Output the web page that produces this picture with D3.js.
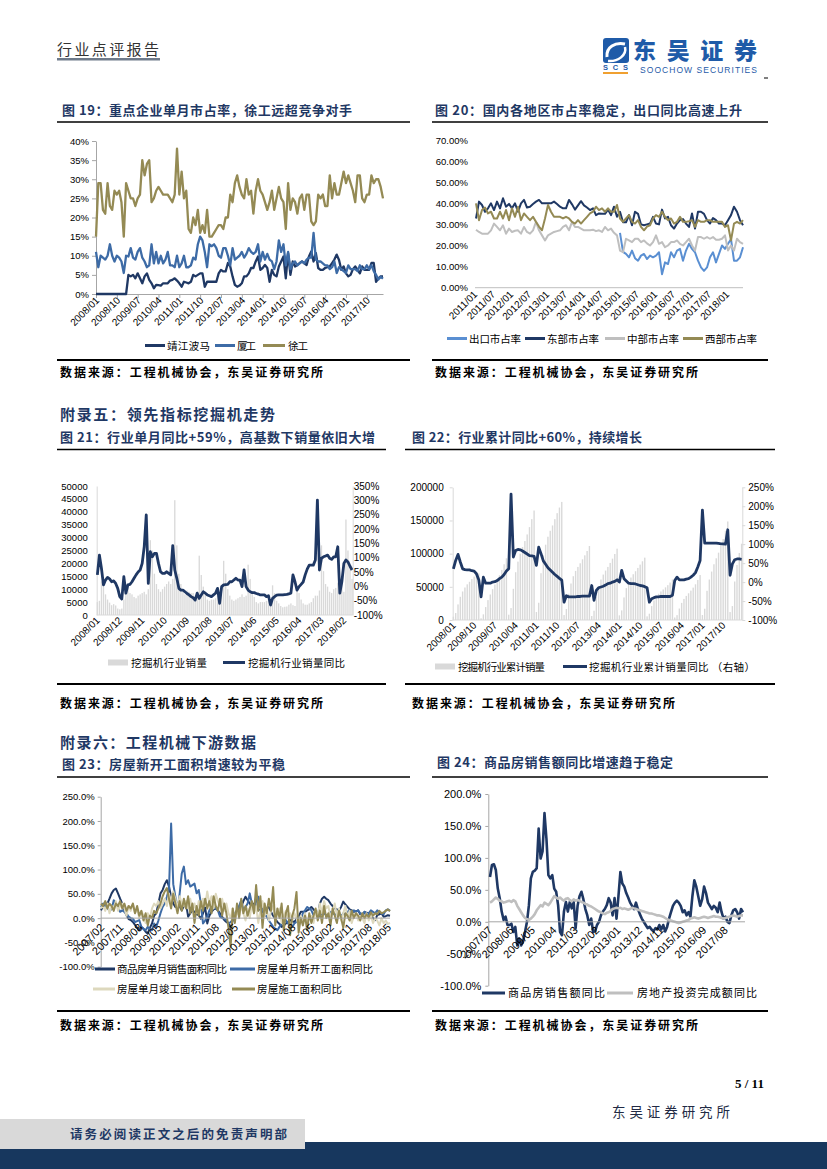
<!DOCTYPE html>
<html>
<head>
<meta charset="utf-8">
<script src="https://cdn.jsdelivr.net/npm/d3@7"></script>
<style>
  body { margin: 0; background: #fff; }
  svg { display: block; }
</style>
</head>
<body>
<svg id="page" width="827" height="1169"></svg>
<script>
// 颜色与字体
const NAVY = "#1f3864", BLUE = "#3d6ba6", LBLUE = "#5a8fd2", KHAKI = "#948a54",
      GRAY = "#bfbfbf", LKHAKI = "#ddd8bd", BAR = "#d9d9d9", TITLE = "#1f3864";
const CN = '"Noto Sans CJK SC", sans-serif';
const NUM = '"Liberation Sans", Arial, sans-serif';

// ---------- 数据 ----------
// 图19 重点企业单月市占率 (%), 2008/01 起
const c19Start = "2008/01";
const c19Jiangbo = [0,0,0,0,0,0,0,0,0,0,0,0,0,0, 5,4.6,5,4.1,5.4,4.1,2.8,4.6,5.4,3.7, 2.8,1.5,2.4,2.3,2.2,2.8,2.8,2.8,3.5,3.7,
  4.1,3.5,2.8,1.9,3.2,3,2.8,3.2,5,4.6, 5,5.4,5.4,1.9,3.2,3.2,3.2,3.2,3.2,5.4, 6.3,5.9,5.9,8.1,7.2,4.6,2.4,1.9,2.2,2.8,
  4.6,4.6,5.4,6.8,6.8,8.5,9.8,6.3,6.8,7.6, 6.8,3.2,6.3,5,4.6,7.2,8.5,9.8,4.1,10.7, 5,8.5,7.2,7.6,8.1,8.5,8,7.6,9.8,11.1,
  8.5,10.7,6.8,6.3,6.3,6.8,7,7.2,8.1,9, 10.3,8.9,6.3,7.2,5.4,4.6,5,6.5,7.2,6.3, 5.4,7.2,6.3,6.3,6.3,8.1,8.1,3.2,4.1,4.6, 4.6];
const c19Xiamen = [11,7,10,9.5,9,10,13,10,8.5,10, 9.5,8.5,5.5,10,9.8,12,9.5,9,11,12, 9.5,8.5,7,7.5,13,8,11,8,10,8,
  9,11,7.5,7.5,7,10,7,8,10,7, 7,7.5,9.5,9,13,15,14,11,7,13, 12.5,13,12,10,9.5,12,12,10,7.5,12,
  9,9.5,10,11,9.5,10.5,12,11,10.5,11, 13,8.5,11,9,10.5,9,8.5,6.5,8.5,14, 11,13,7.5,11,6.5,8,8.5,7.5,8,8.5,
  8,9,9.5,9.5,16,9,8.5,8.5,8,7.5, 7.5,6.5,7,8.5,5.5,7,6.5,6,5.5,7.5, 6.5,6.5,6.5,6,7.5,6.5,6.5,7.5,6.5,7.5, 6,5,3.8,4.5,4];
const c19Xugong = [15,29,29,22,21,29,23,22,27,26, 27,24,15,29,27,25,25,23,25,26, 35,31,34,35,24,25,27,28,27,26,
  26,26,25,24,26,38,26,32,25,27, 17,16,20,18,22,16,18,16,22,15, 15,16,17,18,18,17,20,20,26,24,
  29,31,28,26,25,30,26,27,21,27, 30,27,26,24,22,24,27,22,25,28, 25,24,17,29,22,25,24,21,25,26,
  22,26,26,19,18,19,26,25,26,23, 23,31,25,29,26,26,29,32,29,31, 29,27,24,31,31,25,24,26,26,31, 29,30,30,28,25];
const c19YTicks = [0,5,10,15,20,25,30,35,40];
const c19XTicks = ["2008/01","2008/10","2009/07","2010/04","2011/01","2011/10","2012/07","2013/04","2014/01","2014/10","2015/07","2016/04","2017/01","2017/10"];

// 图20 各地区市占率 (%), 2011/01 起
const c20Start = "2011/01";
const c20Export = [null,null,null,null,null,null,null,null,null,null, null,null,null,null,null,null,null,null,null,null,
  null,null,null,null,null,null,null,null,null,null, null,null,null,null,null,null,null,null,null,null,
  null,null,null,null,null,null,null,null,
  26,17,16,14.4,17.6,14,12.8,15.2,16,13.6, 15.2,14.4,15.2,16.8,6.4,12,11.2,16.8,14.4,17.6,
  18.4,12.8,17.6,20.8,18.4,16.8,12.8,9.6,8,9.6, 14.4,16.8,12,16,20,18.4,20.8,23,12.8,12.8, 14.4,19.2];
const c20East = [32.8,40.8,39.2,36,37.6,40,36.8,40.8,37.6,42.4, 38.4,39.7,37.6,40,36,40,41.6,38,38.4,39.7,
  40.8,41.6,40,40,40,40,40.8,39.7,38.4,37.6, 37.6,41.6,39.5,37,39,41,39,38,36.8,37.6,
  34.4,35.2,35,35,37,34.4,38.4,33.6,36,31, 31,34.4,29.6,36,35,30,29.6,30,30.4,33.6,
  30.4,30,37,32.8,33.6,29.6,28,30.4,32,32.5, 30.4,28.8,35.2,28,36,36,35,32,30.4,33, 32,30.4,30.4,29.6,32,34.4,38.4,36,32,29.6];
const c20Mid = [27.5,26.4,25.6,25.6,25.6,27.2,30.4,28.8,27.2,29.6, 25.6,28,26.4,27,27.2,25.6,28.8,26.4,25.6,27.2,
  31.2,27.2,24.8,22.4,24.8,25.6,26.4,26.8,27.2,28.8, 29.6,27.2,31.2,28.8,28.8,28,27.2,27.2,27.2,27.5,
  26.8,27.2,26.4,28.8,27.2,28,26,24.8,17.6,16.8, 23.2,22.4,21.6,23.2,23.2,21.6,22.4,21,20,21.6,
  24.8,20.8,21.6,19.2,20,21.6,21.6,22.4,20.8,20, 21.6,23.2,20,17.6,24,24,23.2,24,23.2,24, 22.7,22.7,23.2,24.8,17.6,20,17.6,23.2,21.6,20.8];
const c20West = [40,32,36.8,38,35.2,36,32.8,32.8,36,32.8, 36.8,32,37.6,33.6,38.4,32,35.2,33.6,32,33.6,
  31.2,29,27.2,32.8,39.2,36,33.6,33.6,33.6,32.8, 33.6,32.8,31.2,30.4,32,30.4,32,33.6,35.2,36,
  38.4,36.8,37.6,36,37.6,36,36,39.2,32.8,31.2, 32.8,34.4,31.2,30.4,32,28.8,27.2,29,29.6,32.8,
  34.4,33.6,36,33.6,32,32.8,30.4,31.2,33.6,31.2, 31.2,31.5,32,28.8,32,31.2,31.2,32,32,31.2, 31.2,31.2,31.2,28.8,29.6,22.4,30.4,31.2,30.4,32];
const c20YTicks = [0,10,20,30,40,50,60,70];
const c20XTicks = ["2011/01","2011/07","2012/01","2012/07","2013/01","2013/07","2014/01","2014/07","2015/01","2015/07","2016/01","2016/07","2017/01","2017/07","2018/01"];

// 图21 挖掘机单月销量 (台) 与同比 (%), 2008/01 起
const c21Start = "2008/01";
const c21Sales = [5000,5500,13000,11500,8000,6000,4800,3800,4200,3700,2500,2200,
  2500,6000,11000,10500,8500,8000,7000,6500,7500,8000,8500,9000,
  8000,10000,29000,25000,16000,12000,10000,9000,10000,11000,12000,13000,
  12000,14000,44500,27000,16000,12000,9000,8000,9500,9000,8500,8500,
  7500,9000,23000,15500,11000,8000,6000,5500,6000,6000,6500,7500,
  6000,8000,21000,16000,10000,7500,6000,5500,6000,6500,7000,8000,
  7000,7500,19500,14000,9000,7000,5000,4500,5000,5000,5000,5500,
  5500,4000,11500,8500,5500,4500,3500,3000,3200,3300,4000,4500,
  3800,3500,10000,8500,6000,4500,4000,4000,4500,5000,6500,7500,
  7500,9500,27000,17000,12000,11000,9000,8500,10000,10500,12500,14000,
  12000,9000,37000,25000,18000,14000];
const c21Yoy = [40,109,63,5,22,31,26,16,19,10, -7,-36,-44,34,-24,5,7,16,28,40, 50,57,80,138,249,10,121,103,115,115,
  80,51,45,45,51,45,40,142,57,28, -7,-13,-13,-19,-25,-30,-36,-40,-48,-24, -42,-30,-19,-24,-30,-33,-36,-30,-24,-7,
  -59,-1,5,6,7,16,16,22,28,22, 22,-1,57,-1,-13,-19,-22,-22,-25,-27, -30,-30,-30,-36,-33,-65,-42,-36,-31,-30,
  -30,-30,-29,-28,-26,-24,40,16,-13,-1, 7,15,40,60,74,74,74,92,301,57, 98,103,106,109,98,94,103,103,138,-24, 16,80,92,85,70,57];
const c21LTicks = [0,5000,10000,15000,20000,25000,30000,35000,40000,45000,50000];
const c21RTicks = [-100,-50,0,50,100,150,200,250,300,350];
const c21XTicks = ["2008/01","2008/12","2009/11","2010/10","2011/09","2012/08","2013/07","2014/06","2015/05","2016/04","2017/03","2018/02"];

// 图22 挖掘机累计销量 (台) 与累计同比 (%)
const c22Start = "2008/01";
const c22Cum = [5000,10500,23500,35000,43000,49000,53800,57600,61800,65500,68000,70200,
  2500,8500,19500,30000,38500,46500,53500,60000,67500,75500,84000,93000,
  8000,18000,47000,72000,88000,100000,110000,119000,129000,140000,152000,165000,
  12000,26000,70500,97500,113500,125500,134500,142500,152000,161000,169500,178000,
  7500,16500,39500,55000,66000,74000,80000,85500,91500,97500,104000,111500,
  6000,14000,35000,51000,61000,68500,74500,80000,86000,92500,99500,107500,
  7000,14500,34000,48000,57000,64000,69000,73500,78500,83500,88500,94000,
  5500,9500,21000,29500,35000,39500,43000,46000,49200,52500,56500,61000,
  3800,7300,17300,25800,31800,36300,40300,44300,48800,53800,60300,67800,
  7500,17000,44000,61000,73000,84000,93000,101500,111500,122000,134500,148500,
  12000,21000,58000,83000,101000,115000];
const c22Yoy = [35,57,73,53,35,33,32,32,30,29, 22,6,-39,13,-3,-3,-3,0,1,4, 9,13,20,29,35,232,66,83,86,85,
  82,78,74,70,69,68,44,92,75,56, 47,38,32,26,20,15,10,5,-53,-36, -39,-39,-39,-39,-38,-38,-37,-37,-37,-37,
  -9,-48,-22,-15,-13,-11,-8,-4,-3,0, 2,6,0,31,9,3,-3,-4,-4,-5, -7,-9,-10,-12,-15,-53,-44,-41,-39,-39,
  -38,-38,-38,-38,-38,-35,4,13,6,6, 6,8,9,13,18,25,40,57,190,103, 103,103,103,103,103,102,101,101,100,138, 18,48,59,61,61,60];
const c22LTicks = [0,50000,100000,150000,200000];
const c22RTicks = [-100,-50,0,50,100,150,200,250];
const c22XTicks = ["2008/01","2008/10","2009/07","2010/04","2011/01","2011/10","2012/07","2013/04","2014/01","2014/10","2015/07","2016/04","2017/01","2017/10"];

// 图23 房屋面积同比 (%), 2007/02 起
const c23Start = "2007/02";
const c23Sales = [16,25,30,30,40,51,58,61,51,40, 30,15,6,-2,-4,-8,-14,-20,-25,-18, -22,-28,-32,-20,-11,5,10,30,51,58,
  70,78,65,44,30,23,30,25,16,25, 30,3,10,16,13,8,6,-1,10,23, -11,5,13,18,20,16,10,3,-4,-8,
  -11,-21,-5,3,16,20,23,35,44,37, 30,23,30,25,16,18,20,16,20,23, 13,5,-1,-8,-12,-18,-15,-11,-8,-4,
  -6,-8,-2,3,13,13,13,16,18,23, 18,13,3,30,40,44,40,37,30,25, 20,18,16,23,34,28,23,18,16,13,
  14,16,8,3,13,11,10,3,0,-4, 6,8,10,3,4,6,5];
const c23NewStart = [23,30,25,20,16,18,37,30,23,13, 16,13,10,3,0,-1,-8,-6,-4,-18, -22,-25,-18,-22,-25,-11,-18,-5,10,23,
  30,44,60,195,70,44,16,50,92,106, 70,78,65,68,71,51,58,30,-11,-5, 3,16,23,23,20,16,3,0,-1,-4,
  -11,-8,-4,10,16,25,37,16,23,30, 51,30,16,35,44,23,13,8,3,-5, -11,-18,-22,-25,-18,-11,-8,-4,-11,-15,
  -18,-11,-8,3,-4,10,16,23,20,16, 6,10,8,3,13,10,6,3,13,10, 8,6,13,3,10,6,13,16,10,16,
  13,16,10,8,13,6,10,16,13,10, 16,13,10,8,16,18,15];
const c23Done = [20,25,15,30,10,25,20,35,15,25, 30,20,5,25,15,30,10,20,0,15, 5,-10,10,0,20,30,25,35,20,30,
  40,25,50,35,55,40,20,45,30,25, 35,20,40,15,30,10,35,20,40,25, 55,30,45,20,50,35,25,40,15,30,
  10,0,20,-5,15,5,25,10,-5,20, 0,30,10,25,-10,15,35,5,20,-5, 15,25,0,10,20,-10,5,15,0,10,
  -5,10,0,-15,5,-5,10,-10,0,5, -10,15,5,30,10,35,20,25,0,15, 30,5,20,-5,10,25,0,15,-10,5,
  10,-5,5,0,-10,10,-5,5,-10,0, -5,-15,0,-10,-5,-12,-10];
const c23Under = [30,25,35,20,30,25,15,30,25,35, 20,30,15,25,20,30,10,25,5,15, -5,10,-15,5,0,15,10,20,30,45,
  55,62,40,20,50,30,10,35,15,40, 20,45,10,30,-10,25,5,35,15,40, 20,35,10,45,25,15,40,5,30,10,
  -20,-60,20,-10,30,0,40,10,25,5, 20,35,10,68,15,45,-20,30,10,40, 15,64,-15,20,0,30,-25,10,25,-35,
  5,20,54,-30,0,-15,5,-25,10,-10, 5,20,-5,15,-10,25,0,10,-15,20, 5,-10,15,0,-20,10,5,-5,15,0,
  10,5,-5,10,0,8,2,12,5,10, 8,15,10,12,15,18,14];
const c23YTicks = [-100,-50,0,50,100,150,200,250];
const c23XTicks = ["2007/02","2007/11","2008/08","2009/05","2010/02","2010/11","2011/08","2012/05","2013/02","2013/11","2014/08","2015/05","2016/02","2016/11","2017/08","2018/05"];

// 图24 商品房销售额与房地产投资同比 (%), 2007/07 起
const c24Start = "2007/07";
const c24Sales = [70,89,90,81,52,37,16,3,8,-5, -5,-3,-16,-8,-37,-26,-37,-31,-16,0, 26,68,78,80,84,146,99,110,170,130,
  73,68,73,52,47,26,-16,-21,16,31, 16,31,21,31,-10,25,40,47,35,20, 10,-5,5,-16,-15,-5,0,10,16,20,
  26,37,30,10,37,5,40,78,60,55, 45,38,30,25,20,30,20,12,5,0, -5,-10,-8,-12,-15,-10,-12,-5,-12,-5,
  -15,-8,5,15,25,30,33,30,25,15, 18,10,15,8,40,65,55,40,25,35, 55,45,30,25,20,25,22,15,30,15,
  5,8,0,-2,10,18,20,15,5,20, 15];
const c24Invest = [30,32,35,38,36,33,32,30,31,32, 33,31,34,32,25,20,15,10,6,4, 3,5,8,12,18,22,26,24,30,28,
  26,30,35,40,38,36,38,35,33,36, 37,34,32,35,33,34,33,31,30,28, 27,25,24,22,20,18,16,15,13,12,
  14,15,17,20,21,22,21,22,20,21, 20,19,20,22,21,20,19,18,17,16, 15,14,13,13,12,11,10,10,9,8,
  6,4,3,2,1,0,-1,-2,-1,0, 1,2,3,5,6,7,6,5,6,7, 8,7,6,7,8,9,8,8,7,6,
  5,6,7,8,9,10,9,8,9,10, 10];
const c24YTicks = [-100,-50,0,50,100,150,200];
const c24XTicks = ["2007/07","2008/06","2009/05","2010/04","2011/03","2012/02","2013/01","2013/12","2014/11","2015/10","2016/09","2017/08"];

const SOURCE = "数据来源：工程机械协会，东吴证券研究所";

// ---------- 工具函数 ----------
const svg = d3.select("#page");
const parseM = d3.timeParse("%Y/%m");
const fmtM = d3.timeFormat("%Y/%m");

// 从起始月份生成 n 个月份类别
function monthList(start, n) {
  const s = parseM(start);
  return d3.timeMonth.range(s, d3.timeMonth.offset(s, n)).map(fmtM);
}

function txt(parent, x, y, s, o = {}) {
  const t = parent.append("text").attr("x", x).attr("y", y).text(s)
    .attr("font-family", o.family || CN)
    .attr("font-size", o.size || 12)
    .attr("font-weight", o.weight || "normal")
    .attr("fill", o.fill || "#000");
  if (o.len) t.attr("textLength", o.len).attr("lengthAdjust", "spacing");
  if (o.anchor) t.attr("text-anchor", o.anchor);
  return t;
}

function hline(x1, x2, y, w, color) {
  svg.append("line").attr("x1", x1).attr("x2", x2).attr("y1", y).attr("y2", y)
    .attr("stroke", color || "#000").attr("stroke-width", w);
}

function styleAxis(sel, size, color) {
  sel.select(".domain").attr("stroke", color || "#a6a6a6");
  sel.selectAll(".tick line").attr("stroke", color || "#a6a6a6");
  sel.selectAll(".tick text").attr("font-family", NUM).attr("font-size", size).attr("fill", "#000");
}

// 旋转 45° 的月份标签
function rotLabels(g, pos, labels, y0, dx, size) {
  g.append("g").selectAll("text").data(labels).join("text")
    .attr("transform", d => `translate(${pos(d) + dx},${y0}) rotate(-45)`)
    .attr("text-anchor", "end")
    .attr("font-family", NUM).attr("font-size", size).attr("fill", "#000")
    .text(d => d);
}

function drawLine(g, xs, y, values, color, width) {
  const line = d3.line().defined(d => d.v != null).x(d => d.x).y(d => y(d.v));
  g.append("path").datum(values.map((v, i) => ({ x: xs[i], v })))
    .attr("d", line).attr("fill", "none").attr("stroke", color)
    .attr("stroke-width", width).attr("stroke-linejoin", "round");
}

function legLine(g, x1, x2, y, color, w) {
  g.append("line").attr("x1", x1).attr("x2", x2).attr("y1", y).attr("y2", y)
    .attr("stroke", color).attr("stroke-width", w);
}

// ---------- 页眉 ----------
txt(svg, 57, 55, "行业点评报告", { size: 15, fill: "#333", len: 102 });
svg.append("rect").attr("x", 57).attr("y", 58).attr("width", 103).attr("height", 2.5).attr("fill", "#6e7a8a");
svg.append("rect").attr("x", 603).attr("y", 38).attr("width", 26).attr("height", 25).attr("rx", 3).attr("fill", "#1f5ba8");
svg.append("path").attr("d", "M607,57 C606,47 615,42 625,44").attr("stroke", "#fff").attr("stroke-width", 3).attr("fill", "none");
svg.append("path").attr("d", "M608,61 C618,62 627,55 625,47").attr("stroke", "#fff").attr("stroke-width", 2.5).attr("fill", "none");
txt(svg, 633, 59, "东吴证券", { size: 23, weight: 900, fill: "#1f5ba8", len: 124 });
txt(svg, 640, 73, "SOOCHOW SECURITIES", { size: 8.5, family: NUM, fill: "#1f5ba8", len: 117 });
txt(svg, 603, 70, "SCS", { size: 7.5, family: NUM, weight: "bold", fill: "#1f5ba8", len: 25 });
svg.append("rect").attr("x", 603).attr("y", 72).attr("width", 25).attr("height", 2).attr("fill", "#f0a030");
hline(764, 768, 78, 1, "#000");

// ---------- 标题、分隔线、来源 ----------
function title(x, y, s, len) { txt(svg, x, y, s, { size: 13, weight: "bold", fill: TITLE, len }); }
function heading(x, y, s, len) { txt(svg, x, y, s, { size: 15, weight: "bold", fill: TITLE, len }); }
function source(x, y) { txt(svg, x, y, SOURCE, { size: 12, weight: "bold", len: 263 }); }

title(62, 115, "图 19：重点企业单月市占率，徐工远超竞争对手", 290);
hline(57, 410, 122, 1.6);
title(435, 115, "图 20：国内各地区市占率稳定，出口同比高速上升", 307);
hline(432, 768, 122, 1.6);
hline(57, 410, 360, 1.8);
hline(432, 768, 360, 1.8);
source(60, 377);
source(435, 377);

heading(60, 420, "附录五：领先指标挖掘机走势", 215);
title(60, 442, "图 21：行业单月同比+59%，高基数下销量依旧大增", 315);
hline(57, 386, 449.5, 1.6);
title(412, 442, "图 22：行业累计同比+60%，持续增长", 230);
hline(405, 775, 449.5, 1.6);
hline(57, 386, 684, 1.8);
hline(405, 775, 684, 1.8);
source(60, 708);
source(412, 708);

heading(60, 748, "附录六：工程机械下游数据", 196);
title(62, 769, "图 23：房屋新开工面积增速较为平稳", 223);
hline(57, 410, 777, 1.6);
title(437, 767, "图 24：商品房销售额同比增速趋于稳定", 236);
hline(432, 768, 777, 1.6);
hline(57, 410, 1011, 1.8);
hline(432, 768, 1011, 1.8);
source(60, 1030);
source(435, 1030);

// ---------- 图19 ----------
{
  const g = svg.append("g");
  const months = monthList(c19Start, c19Xugong.length);
  const x = d3.scalePoint().domain(months).range([96, 383]);
  const y = d3.scaleLinear().domain([0, 40]).range([294, 141]);
  const xs = months.map(m => x(m));

  const ya = g.append("g").attr("transform", "translate(96,0)")
    .call(d3.axisLeft(y).tickValues(c19YTicks).tickFormat(d => d + "%").tickSize(4).tickSizeOuter(0).tickPadding(3));
  styleAxis(ya, 9.5);
  const xa = g.append("g").attr("transform", "translate(0,294)")
    .call(d3.axisBottom(x).tickValues(c19XTicks).tickFormat("").tickSize(4).tickSizeOuter(0));
  styleAxis(xa, 9.5);
  rotLabels(g, x, c19XTicks, 301, 4, 10);

  drawLine(g, xs, y, c19Jiangbo, NAVY, 2.3);
  drawLine(g, xs, y, c19Xiamen, BLUE, 2.3);
  drawLine(g, xs, y, c19Xugong, KHAKI, 2.3);

  const ly = 345.5;
  legLine(g, 145, 165, ly, NAVY, 3);
  txt(g, 167, ly + 4, "靖江波马", { size: 10.5, len: 43 });
  legLine(g, 215, 235, ly, BLUE, 3);
  txt(g, 237, ly + 4, "厦工", { size: 10.5, len: 19 });
  legLine(g, 263, 285, ly, KHAKI, 3);
  txt(g, 288, ly + 4, "徐工", { size: 10.5, len: 20 });
}

// ---------- 图20 ----------
{
  const g = svg.append("g");
  const months = monthList(c20Start, c20East.length);
  const x = d3.scalePoint().domain(months).range([476, 743]);
  const y = d3.scaleLinear().domain([0, 70]).range([287.7, 140]);
  const xs = months.map(m => x(m));

  const ya = g.append("g").attr("transform", "translate(472,0)")
    .call(d3.axisLeft(y).tickValues(c20YTicks).tickFormat(d => d.toFixed(2) + "%").tickSize(0).tickPadding(4));
  styleAxis(ya, 9.5);
  ya.select(".domain").remove();
  hline(475, 743, 287.7, 1, "#bfbfbf");
  rotLabels(g, x, c20XTicks, 295, 2, 10);

  drawLine(g, xs, y, c20Export, LBLUE, 2);
  drawLine(g, xs, y, c20East, NAVY, 2);
  drawLine(g, xs, y, c20Mid, GRAY, 2);
  drawLine(g, xs, y, c20West, KHAKI, 2);

  const ly = 338.5;
  const items = [[447, LBLUE, "出口市占率"], [525, NAVY, "东部市占率"], [605, GRAY, "中部市占率"], [683, KHAKI, "西部市占率"]];
  items.forEach(([lx, c, s]) => {
    legLine(g, lx, lx + 20, ly, c, 3);
    txt(g, lx + 22, ly + 4, s, { size: 10.5, len: 52 });
  });
}

// ---------- 图21 ----------
{
  const g = svg.append("g");
  const months = monthList(c21Start, c21Sales.length);
  const x = d3.scaleBand().domain(months).range([96.7, 352.7]).paddingInner(0.35);
  const yL = d3.scaleLinear().domain([0, 50000]).range([615, 486]);
  const yR = d3.scaleLinear().domain([-100, 350]).range([615, 486]);
  const cx = m => x(m) + x.bandwidth() / 2;

  g.append("g").selectAll("rect").data(c21Sales).join("rect")
    .attr("x", (d, i) => x(months[i])).attr("width", x.bandwidth())
    .attr("y", d => yL(d)).attr("height", d => 615 - yL(d)).attr("fill", BAR);

  const la = g.append("g").attr("transform", "translate(96.7,0)")
    .call(d3.axisLeft(yL).tickValues(c21LTicks).tickFormat(d3.format("d")).tickSize(0).tickPadding(9));
  styleAxis(la, 9.5, "#d9d9d9");
  const ra = g.append("g").attr("transform", "translate(352.7,0)")
    .call(d3.axisRight(yR).tickValues(c21RTicks).tickFormat(d => d + "%").tickSize(0).tickPadding(1));
  styleAxis(ra, 10, "#d9d9d9");
  hline(96.7, 352.7, 615, 1, "#d9d9d9");
  rotLabels(g, cx, c21XTicks, 621, 3, 10);

  drawLine(g, months.map(cx), yR, c21Yoy, NAVY, 2.8);

  const ly = 662.5;
  g.append("rect").attr("x", 108).attr("y", ly - 3).attr("width", 20).attr("height", 6).attr("fill", BAR);
  txt(g, 131, ly + 4, "挖掘机行业销量", { size: 10.5, len: 76 });
  legLine(g, 223, 245, ly, NAVY, 3);
  txt(g, 248, ly + 4, "挖掘机行业销量同比", { size: 10.5, len: 97 });
}

// ---------- 图22 ----------
{
  const g = svg.append("g");
  const months = monthList(c22Start, c22Cum.length);
  const x = d3.scaleBand().domain(months).range([452.7, 742.3]).paddingInner(0.4);
  const yL = d3.scaleLinear().domain([0, 200000]).range([620, 487.3]);
  const yR = d3.scaleLinear().domain([-100, 250]).range([620, 487.3]);
  const cx = m => x(m) + x.bandwidth() / 2;

  g.append("g").selectAll("rect").data(c22Cum).join("rect")
    .attr("x", (d, i) => x(months[i])).attr("width", x.bandwidth())
    .attr("y", d => yL(d)).attr("height", d => 620 - yL(d)).attr("fill", BAR);

  const la = g.append("g").attr("transform", "translate(452.7,0)")
    .call(d3.axisLeft(yL).tickValues(c22LTicks).tickFormat(d3.format("d")).tickSize(3).tickSizeOuter(0).tickPadding(6));
  styleAxis(la, 10, "#d9d9d9");
  const ra = g.append("g").attr("transform", "translate(742.3,0)")
    .call(d3.axisRight(yR).tickValues(c22RTicks).tickFormat(d => d + "%").tickSize(3).tickSizeOuter(0).tickPadding(3));
  styleAxis(ra, 10, "#d9d9d9");
  hline(452.7, 742.3, 620, 1, "#d9d9d9");
  rotLabels(g, cx, c22XTicks, 626, 3, 10);

  drawLine(g, months.map(cx), yR, c22Yoy, NAVY, 2.8);

  const ly = 666.5;
  g.append("rect").attr("x", 435).attr("y", ly - 3).attr("width", 20).attr("height", 6).attr("fill", BAR);
  txt(g, 458, ly + 4, "挖掘机行业累计销量", { size: 10.5, len: 87 });
  legLine(g, 563, 587, ly, NAVY, 3);
  txt(g, 589, ly + 4, "挖掘机行业累计销量同比 （右轴）", { size: 10.5, len: 166 });
}

// ---------- 图23 ----------
{
  const g = svg.append("g");
  const months = monthList(c23Start, c23Sales.length);
  const x = d3.scalePoint().domain(months).range([101, 390]);
  const y = d3.scaleLinear().domain([-100, 250]).range([966.7, 796.7]);
  const xs = months.map(m => x(m));

  const ya = g.append("g").attr("transform", "translate(100.7,0)")
    .call(d3.axisLeft(y).tickValues(c23YTicks).tickFormat(d => d.toFixed(1) + "%").tickSize(3).tickSizeOuter(0).tickPadding(3));
  styleAxis(ya, 9.5);
  hline(100.7, 390, y(0), 1, "#a6a6a6");

  drawLine(g, xs, y, c23Sales, NAVY, 2);
  drawLine(g, xs, y, c23NewStart, BLUE, 2);
  drawLine(g, xs, y, c23Done, LKHAKI, 2);
  drawLine(g, xs, y, c23Under, KHAKI, 2);
  rotLabels(g, x, c23XTicks, y(0) + 10, 4, 11);

  legLine(g, 95, 115, 969, NAVY, 3);
  txt(g, 117, 973, "商品房单月销售面积同比", { size: 10.5, len: 110 });
  legLine(g, 230, 255, 969, BLUE, 3);
  txt(g, 257, 973, "房屋单月新开工面积同比", { size: 10.5, len: 116 });
  legLine(g, 93, 115, 989, LKHAKI, 3);
  txt(g, 117, 993, "房屋单月竣工面积同比", { size: 10.5, len: 105 });
  legLine(g, 232, 255, 989, KHAKI, 3);
  txt(g, 257, 993, "房屋施工面积同比", { size: 10.5, len: 85 });
}

// ---------- 图24 ----------
{
  const g = svg.append("g");
  const months = monthList(c24Start, c24Sales.length);
  const x = d3.scalePoint().domain(months).range([490, 743]);
  const y = d3.scaleLinear().domain([-100, 200]).range([985.7, 794]);
  const xs = months.map(m => x(m));

  const ya = g.append("g").attr("transform", "translate(488.3,0)")
    .call(d3.axisLeft(y).tickValues(c24YTicks).tickFormat(d => d.toFixed(1) + "%").tickSize(3).tickSizeOuter(0).tickPadding(4));
  styleAxis(ya, 11);
  hline(488.3, 745, y(0), 1, "#a6a6a6");

  drawLine(g, xs, y, c24Sales, NAVY, 2.6);
  drawLine(g, xs, y, c24Invest, GRAY, 2.6);
  rotLabels(g, x, c24XTicks, y(0) + 9, 3, 11);

  legLine(g, 482, 505, 993, NAVY, 3);
  txt(g, 508, 997, "商品房销售额同比", { size: 11, len: 97 });
  legLine(g, 607, 633, 993, GRAY, 3);
  txt(g, 637, 997, "房地产投资完成额同比", { size: 11, len: 120 });
}

// ---------- 页脚 ----------
txt(svg, 735, 1088, "5 / 11", { size: 13, weight: "bold", family: '"Liberation Serif", serif' });
txt(svg, 612, 1117, "东吴证券研究所", { size: 13.5, fill: "#222a44", len: 118 });
svg.append("rect").attr("x", 0).attr("y", 1142).attr("width", 827).attr("height", 27).attr("fill", "#17375e");
svg.append("rect").attr("x", 0).attr("y", 1119).attr("width", 305).attr("height", 30).attr("fill", "#d9d9d9");
txt(svg, 70, 1139, "请务必阅读正文之后的免责声明部", { size: 12.5, weight: "bold", fill: "#1f3864", len: 217 });
</script>
</body>
</html>
